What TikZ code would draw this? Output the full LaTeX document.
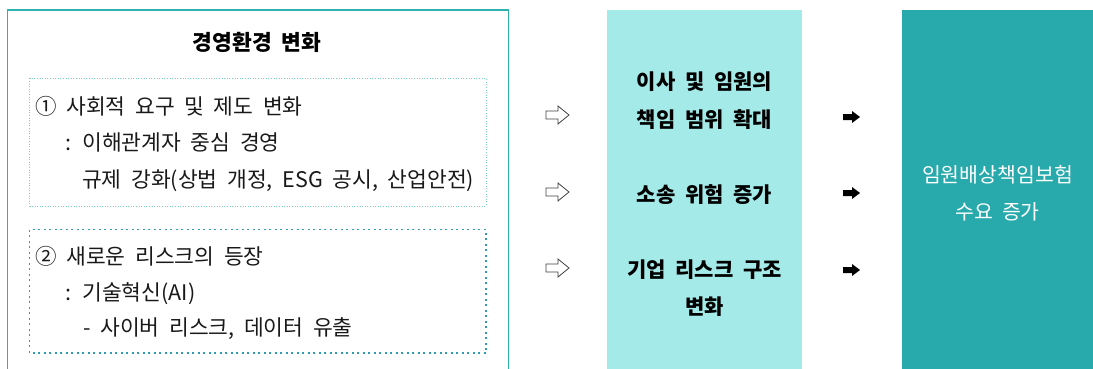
\documentclass[tikz,border=0pt]{standalone}
\usepackage{fontspec}
\newfontfamily\kr{Noto Sans CJK KR}[WordSpace=2]
\definecolor{outerteal}{HTML}{2DB3AE}
\definecolor{dotlight}{HTML}{7ACFCB}
\definecolor{dotdark}{HTML}{2E9DB0}
\definecolor{midfill}{HTML}{A3EAE8}
\definecolor{rightfill}{HTML}{28A9AB}
\tikzset{
  body/.style={anchor=base west, inner sep=0pt, font=\kr\fontsize{21.5}{24}\selectfont, text=black!90},
  midtxt/.style={anchor=base, inner sep=0pt, font=\kr\bfseries\fontsize{21}{24}\selectfont},
  righttxt/.style={anchor=base, inner sep=0pt, font=\kr\fontsize{20.5}{24}\selectfont, text=white},
  hollowarrow/.pic={\draw[black!75, line width=0.8pt, fill=white, line join=miter]
      (0,-4) -- (12,-4) -- (12,-9) -- (23,0) -- (12,9) -- (12,4) -- (0,4) -- cycle;},
  blackarrow/.pic={\fill[black]
      (0,-3) -- (9,-3) -- (9,-6) -- (17,0) -- (9,6) -- (9,3) -- (0,3) -- cycle;}
}
\begin{document}
\begin{tikzpicture}[x=1pt,y=-1pt]
\useasboundingbox (0,0) rectangle (1093,369);
\clip (0,0) rectangle (1093,369);
% outer box
\draw[outerteal, line width=1.4pt] (7.5,10) rectangle (508.5,380);
\node[anchor=base, inner sep=0pt, font=\kr\bfseries\fontsize{21.5}{24}\selectfont] (title) at (257,51) {경영환경 변화};
% inner box 1
\draw[dotlight, line width=1pt, dash pattern=on 1pt off 1.6pt] (29.5,78.5) rectangle (486,206);
\node[body] (a1) at (35,114.5) {① 사회적 요구 및 제도 변화};
\node[body] (a2) at (65,150.5) {: 이해관계자 중심 경영};
\node[body] (a3) at (82,187.5) {규제 강화(상법 개정, ESG 공시, 산업안전)};
% inner box 2
\draw[dotdark, line width=1.3pt, dash pattern=on 2pt off 3.5pt] (29.5,229.5) rectangle (486,353);
\node[body] (b1) at (35,264.5) {② 새로운 리스크의 등장};
\node[body] (b2) at (65,300.5) {: 기술혁신(AI)};
\node[body] (b3) at (83,335.5) {- 사이버 리스크, 데이터 유출};
% middle box
\fill[midfill] (607,10) rectangle (802,380);
\node[midtxt] (m1a) at (704.5,89.5) {이사 및 임원의};
\node[midtxt] (m1b) at (704.5,127.5) {책임 범위 확대};
\node[midtxt] (m2) at (704.5,202.5) {소송 위험 증가};
\node[midtxt] (m3a) at (704.5,277.5) {기업 리스크 구조};
\node[midtxt] (m3b) at (704.5,314.5) {변화};
% right box
\fill[rightfill] (901.5,10) rectangle (1093,380);
\node[righttxt] (r1) at (997.5,182.5) {임원배상책임보험};
\node[righttxt] (r2) at (997.5,219.5) {수요 증가};
% arrows
\pic at (546,115) {hollowarrow};
\pic at (546,192) {hollowarrow};
\pic at (546,268) {hollowarrow};
\pic at (843,117) {blackarrow};
\pic at (843,193) {blackarrow};
\pic at (843,270) {blackarrow};
\end{tikzpicture}
\end{document}
